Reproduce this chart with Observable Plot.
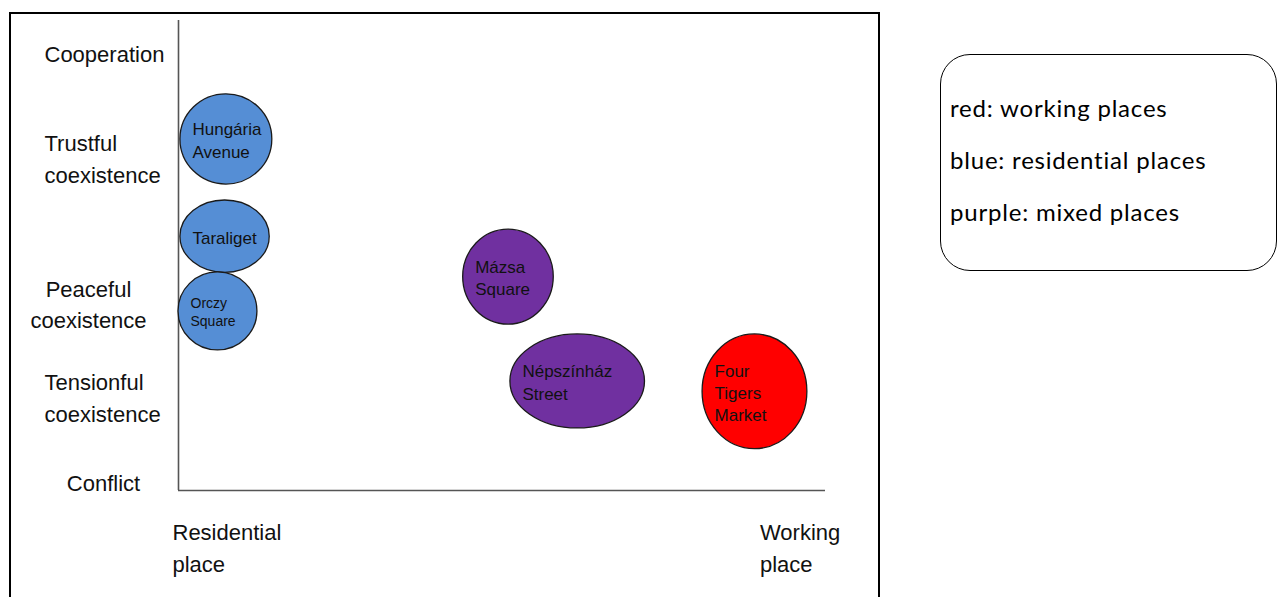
<!DOCTYPE html>
<html><head><meta charset="utf-8">
<script src="https://cdn.jsdelivr.net/npm/d3@7"></script>
<script src="https://cdn.jsdelivr.net/npm/@observablehq/plot@0.6"></script>
<style>
html,body{margin:0;padding:0;background:#fff;}
#wrap{position:relative;width:1281px;height:597px;overflow:hidden;background:#fff;}
#chart{position:absolute;left:0;top:0;}
#frame{position:absolute;left:9px;top:12px;width:867px;height:640px;border:2px solid #000;border-bottom:none;pointer-events:none;}
#legend{position:absolute;left:940px;top:54px;width:335px;height:215px;border:1.5px solid #000;border-radius:30px;font-family:Lato,"Open Sans",sans-serif;font-size:24px;letter-spacing:0.8px;color:#000;}
#legend div{position:absolute;left:9px;line-height:30px;white-space:nowrap;}
</style></head><body>
<div id="wrap"><div id="chart"></div><div id="frame"></div><div id="legend"></div></div>
<script>
// ---- data ----
const places = ["Hungária\nAvenue", "Taraliget", "Orczy\nSquare", "Mázsa\nSquare", "Népszínház\nStreet", "Four\nTigers\nMarket"];
const placeType = ["residential", "residential", "residential", "mixed", "mixed", "working"];
const placeX = [7.4, 7.2, 6.1, 51.0, 61.7, 89.1];      // residential (0) -> working (100)
const placeY = [74.7, 54.0, 38.1, 45.4, 23.2, 21.0];   // conflict (0) -> cooperation (100)
const spreadX = [7.1, 6.9, 6.1, 7.0, 10.4, 8.1];
const spreadY = [9.6, 7.7, 8.3, 10.1, 10.0, 12.2];

const levels = ["Cooperation", "Trustful\ncoexistence", "Peaceful\ncoexistence", "Tensionful\ncoexistence", "Conflict"];
const levelY = [92.6, 70.4, 39.4, 19.6, 1.5];

const axisEnds = ["Residential\nplace", "Working\nplace"];
const axisEndX = [0, 90.8];

const typeNames = ["working", "residential", "mixed"];
const typeColors = ["#ff0000", "#558ed5", "#7030a0"];
const legendItems = ["red: working places", "blue: residential places", "purple: mixed places"];

// ---- build tables ----
const rows = places.map((name, i) => ({name, type: placeType[i], x: placeX[i], y: placeY[i], sx: spreadX[i], sy: spreadY[i]}));
const levelRows = levels.map((name, i) => ({name, y: levelY[i]}));
const startLevels = levelRows.filter(d => /^(Cooperation|Trustful|Tensionful)/.test(d.name));
const peacefulLevel = levelRows.filter(d => /^Peaceful/.test(d.name));
const conflictLevel = levelRows.filter(d => /^Conflict/.test(d.name));
const endRows = axisEnds.map((name, i) => ({name, x: axisEndX[i]}));

function ellipses(index, scales) {
  const g = d3.create("svg:g");
  g.selectAll("ellipse").data(rows).join("ellipse")
    .attr("cx", d => scales.x(d.x))
    .attr("cy", d => scales.y(d.y))
    .attr("rx", d => Math.abs(scales.x(d.x + d.sx) - scales.x(d.x)))
    .attr("ry", d => Math.abs(scales.y(d.y) - scales.y(d.y + d.sy)))
    .attr("fill", d => scales.color(d.type))
    .attr("stroke", "#1a1a1a")
    .attr("stroke-width", 1.3);
  return g.node();
}

const labelStyle = {textAnchor: "start", lineAnchor: "middle", fontSize: 22, lineHeight: 1.45, fill: "#111", dy: -3};

const chart = Plot.plot({
  width: 1281,
  height: 597,
  marginLeft: 178,
  marginRight: 456,
  marginTop: 20,
  marginBottom: 107,
  x: {domain: [0, 100], axis: null},
  y: {domain: [0, 100], axis: null},
  color: {domain: typeNames, range: typeColors},
  style: {fontFamily: "'Liberation Sans', Arial, sans-serif", background: "transparent", overflow: "visible"},
  marks: [
    Plot.dot(rows, {x: "x", y: "y", fill: "type", r: 1, fillOpacity: 0}),
    Plot.ruleX([0], {stroke: "#555", strokeWidth: 1.6}),
    Plot.ruleY([0], {stroke: "#555", strokeWidth: 1.6}),
    ellipses,
    Plot.text(rows, {
      x: d => d.x - d.sx, y: "y", text: "name",
      textAnchor: "start", dx: 12, lineAnchor: "middle",
      fontSize: d => d.name.startsWith("Orczy") ? 14 : 17,
      lineHeight: 1.3, fill: "#111"
    }),
    Plot.text(startLevels, {y: "y", text: "name", frameAnchor: "left", dx: -134, ...labelStyle}),
    Plot.text(peacefulLevel, {y: "y", text: "name", frameAnchor: "left", dx: -90, ...labelStyle, textAnchor: "middle"}),
    Plot.text(conflictLevel, {y: "y", text: "name", frameAnchor: "left", dx: -75, ...labelStyle, textAnchor: "middle"}),
    Plot.text(endRows, {x: "x", text: "name", frameAnchor: "bottom", dx: -6, ...labelStyle, dy: 55})
  ]
});
document.getElementById("chart").appendChild(chart);

const legend = d3.select("#legend");
legend.selectAll("div").data(legendItems).join("div")
  .style("top", (d, i) => (38 + i * 52) + "px")
  .text(d => d);
</script>
</body></html>
